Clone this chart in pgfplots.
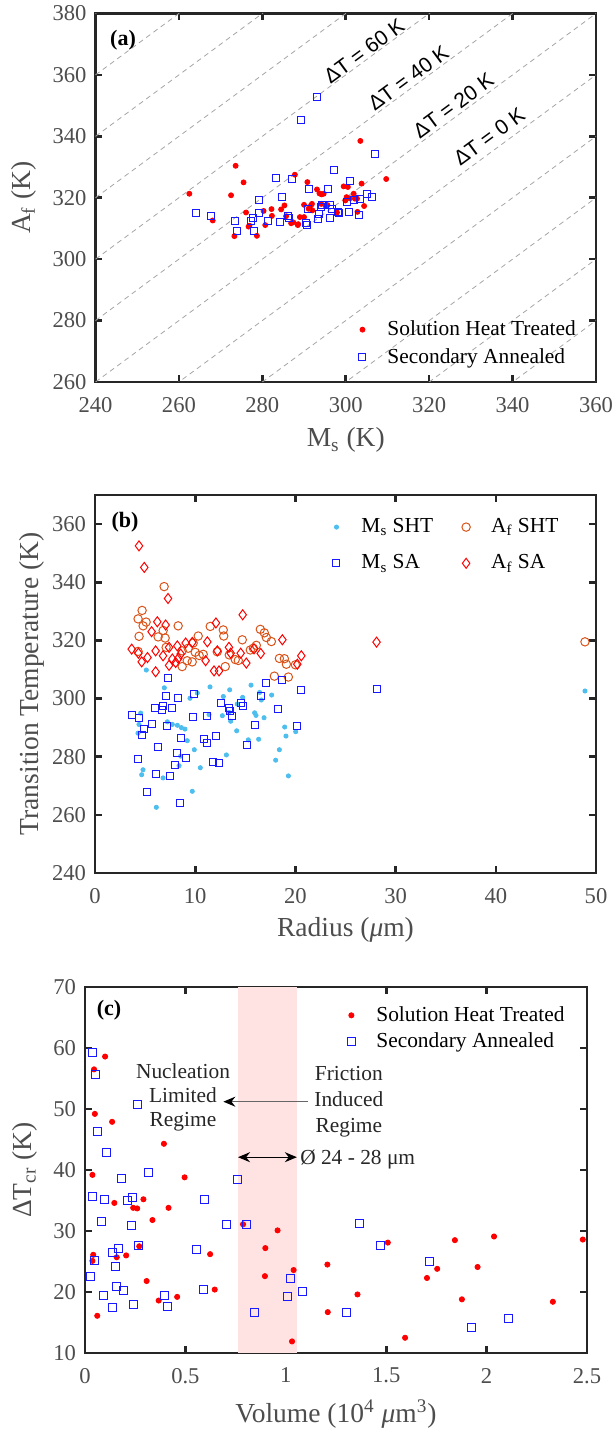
\documentclass[border=0pt]{standalone}
\usepackage{fontspec}
\setmainfont{Liberation Serif}
\newfontfamily\sansf{Liberation Sans}
\usepackage{pgfplots}
\pgfplotsset{compat=1.18}
\usetikzlibrary{arrows.meta}
\definecolor{axgray}{RGB}{38,38,38}
\definecolor{lblgray}{RGB}{77,77,77}
\definecolor{msht}{RGB}{77,190,238}
\definecolor{afsht}{RGB}{217,83,25}
\definecolor{dashgray}{RGB}{165,165,165}
\definecolor{bandpink}{RGB}{255,226,226}
\definecolor{sqblue}{RGB}{25,25,255}
\newcommand{\lblfont}{\fontsize{13.75}{16}\selectfont}
\pgfplotsset{
 base/.style={
  scale only axis,
  axis line style={axgray, line width=1.3pt},
  every tick/.style={axgray, line width=1.3pt},
  major tick length=3.3pt,
  tick align=inside,
  tick label style={font=\fontsize{11.3}{13}\selectfont, text=lblgray},
  /pgf/number format/assume math mode=true,
  xticklabel style={yshift=-4pt},
  yticklabel style={xshift=-1pt},
  legend cell align=left,
  legend style={draw=none, fill=none, font=\fontsize{10.7}{12}\selectfont, row sep=0pt},
  legend image code/.code={\path[draw=none, fill=none] (0pt,-2pt) rectangle (20.5pt,2pt); \draw[##1] plot coordinates {(10pt,0pt)};},
 },
 dashline/.style={dashgray, line width=0.4pt, dash pattern=on 2.5pt off 2pt, forget plot},
 sqmark/.style={sqblue, only marks, mark=square, mark size=#1, mark options={draw=sqblue, fill=none, line width=0.5pt}},
}
\begin{document}
\begin{tikzpicture}
\path[use as bounding box] (0,0) rectangle (307.5pt,-719pt);
% ---------------- (a)
\begin{axis}[base,
  at={(47.75pt,-6.75pt)}, anchor=north west,
  width=250.25pt, height=184.25pt,
  xmin=240, xmax=360, ymin=260, ymax=380,
  xtick={240,260,...,360}, ytick={260,280,...,380},
  xlabel={M\textsubscript{s} (K)}, ylabel={A\textsubscript{f} (K)},
  every axis x label/.style={at={(rel axis cs:0.5,-0.176)}, anchor=base, font=\lblfont, text=lblgray},
  every axis y label/.style={at={(rel axis cs:-0.130,0.5)}, rotate=90, anchor=base, font=\lblfont, text=lblgray},
  legend style={at={(0.4807,0.0195)}, anchor=south west, row sep=1pt},
]
\addplot[dashline] coordinates {(240,140) (360,260)};
\addplot[dashline] coordinates {(240,160) (360,280)};
\addplot[dashline] coordinates {(240,180) (360,300)};
\addplot[dashline] coordinates {(240,200) (360,320)};
\addplot[dashline] coordinates {(240,220) (360,340)};
\addplot[dashline] coordinates {(240,240) (360,360)};
\addplot[dashline] coordinates {(240,260) (360,380)};
\addplot[dashline] coordinates {(240,280) (360,400)};
\addplot[dashline] coordinates {(240,300) (360,420)};
\addplot[dashline] coordinates {(240,320) (360,440)};
\addplot[dashline] coordinates {(240,340) (360,460)};
\addplot[dashline] coordinates {(240,360) (360,480)};
\addplot[dashline] coordinates {(240,380) (360,500)};
\addplot[red, only marks, mark=*, mark size=1.25pt, mark options={draw=red, fill=red}] coordinates {
(262.5,321.3) (268.1,312.6) (272.5,320.8) (273.6,330.4) (273.3,307.5) (275.5,325.0)
(276.1,315.2) (276.7,310.6) (278.7,307.6) (280.3,315.7) (280.7,311.1) (282.2,316.3)
(282.3,314.1) (284.5,316.2) (285.3,317.5) (285.7,314.0) (286.9,311.7) (287.8,327.5)
(288.5,311.1) (289.0,313.7) (290.0,317.7) (290.0,313.7) (290.8,325.1) (291.1,316.4)
(291.7,317.6) (292.0,315.9) (293.1,322.7) (293.7,321.4) (294.2,321.1) (294.7,321.3)
(294.1,318.0) (295.1,317.5) (297.9,315.2) (299.5,323.7) (299.9,319.1) (300.2,320.2)
(300.5,323.5) (301.0,319.8) (301.9,321.3) (302.2,319.7) (302.8,315.4) (303.5,338.5)
(303.8,324.6) (304.4,317.3) (309.7,326.1) (287.4,312.0) (288.6,311.4) (291.9,318.0)
(295.6,317.6) (276.9,310.9) (302.7,319.7)};
\addlegendentry{Solution Heat Treated}
\addplot[sqmark=1.75pt] coordinates {
(264.1,315.0) (267.7,314.2) (273.4,312.3) (273.9,309.3) (277.2,312.3) (277.7,313.5)
(278.0,309.3) (279.3,319.3) (279.1,315.1) (281.3,312.3) (283.2,326.5) (284.2,312.1)
(284.6,320.1) (286.1,314.2) (286.4,313.5) (287.2,326.1) (289.2,345.3) (290.4,311.7)
(290.6,311.1) (291.1,322.9) (290.9,316.2) (293.2,352.9) (293.4,313.1) (293.7,314.8)
(294.1,316.9) (294.4,317.7) (295.8,322.8) (296.3,317.5) (296.3,313.3) (296.6,316.4)
(297.3,328.9) (298.2,315.3) (298.4,315.1) (300.2,318.6) (300.7,315.2) (300.9,325.3)
(301.9,319.3) (303.2,314.4) (303.4,319.6) (305.1,321.1) (306.2,320.4) (306.9,334.4)};
\addlegendentry{Secondary Annealed}
\node[rotate=36.4, font=\sansf\fontsize{10.5}{12}\selectfont] at (axis cs:304.4,367.8) {ΔT = 60 K};
\node[rotate=36.4, font=\sansf\fontsize{10.5}{12}\selectfont] at (axis cs:315.0,358.9) {ΔT = 40 K};
\node[rotate=36.4, font=\sansf\fontsize{10.5}{12}\selectfont] at (axis cs:325.8,350.0) {ΔT = 20 K};
\node[rotate=36.4, font=\sansf\fontsize{10.5}{12}\selectfont] at (axis cs:334.4,339.9) {ΔT = 0 K};
\node[font=\bfseries\fontsize{11}{13}\selectfont] at (rel axis cs:0.055,0.928) {(a)};
\end{axis}
% ---------------- (b)
\begin{axis}[base,
  at={(47.5pt,-247.5pt)}, anchor=north west,
  width=250.5pt, height=189pt,
  xmin=0, xmax=50, ymin=240, ymax=370,
  xtick={0,10,...,50}, ytick={240,260,...,360},
  xlabel={Radius (\textit{μ}m)}, ylabel={Transition Temperature (K)},
  every axis x label/.style={at={(rel axis cs:0.5,-0.167)}, anchor=base, font=\lblfont, text=lblgray},
  every axis y label/.style={at={(rel axis cs:-0.112,0.5)}, rotate=90, anchor=base, font=\lblfont, text=lblgray},
  legend columns=2,
  legend style={at={(0.4293,0.960)}, anchor=north west, row sep=5.5pt,
    /tikz/every even column/.append style={column sep=4.5pt}},
]
\addplot[msht, only marks, mark=*, mark size=1.05pt, mark options={draw=msht, fill=msht}] coordinates {
(5.12,309.8) (6.92,303.7) (9.48,300.1) (10.21,301.9) (11.48,304.0) (12.81,300.7)
(13.44,303.0) (14.73,300.4) (15.57,304.6) (16.43,302.1) (16.6,299.5) (17.63,301.2)
(4.56,295.0) (4.39,291.1) (4.29,288.1) (7.22,292.0) (7.72,291.1) (8.22,290.8)
(8.62,290.0) (8.98,289.5) (9.21,285.5) (9.91,282.4) (10.51,276.2) (11.38,294.5)
(12.71,294.1) (13.11,280.6) (13.37,295.2) (13.54,292.2) (14.14,288.9) (14.2,298.1)
(15.3,285.8) (15.93,295.1) (16.07,294.2) (16.33,286.0) (16.87,293.4) (18.93,290.2)
(19.06,287.1) (20.03,288.6) (18.4,282.4) (18.03,278.8) (19.3,273.4) (4.79,275.5)
(4.66,273.8) (6.79,272.7) (8.39,276.9) (8.55,280.2) (9.71,268.1) (6.12,262.6)
(48.9,302.6)};
\addlegendentry{M\textsubscript{s} SHT}
\addplot[afsht, only marks, mark=o, mark size=2.1pt, mark options={draw=afsht, fill=none, line width=0.5pt}] coordinates {
(6.9,338.5) (4.7,330.3) (4.3,327.4) (5.1,326.3) (4.8,325.0) (8.3,325.0) (4.4,321.4)
(6.3,321.2) (6.8,323.4) (7.0,320.8) (10.3,321.5) (11.5,324.8) (12.8,323.6) (12.85,321.5)
(14.7,320.2) (16.5,323.8) (16.9,322.6) (17.1,321.0) (17.6,319.6) (4.3,316.2) (7.1,317.6)
(8.7,316.4) (9.3,317.3) (9.8,319.1) (10.0,315.9) (10.4,314.8) (8.7,311.0) (9.2,313.0)
(9.7,312.6) (10.8,315.2) (13.0,311.0) (12.2,316.1) (13.4,315.0) (14.0,313.4) (14.3,313.1)
(15.5,316.7) (15.8,317.3) (16.1,318.3) (18.4,313.8) (18.9,313.7) (19.1,311.8) (17.9,307.7)
(19.3,307.4) (20.0,311.6) (48.9,319.5)};
\addlegendentry{A\textsubscript{f} SHT}
\addplot[sqmark=1.75pt] coordinates {
(7.29,307.0) (7.05,300.9) (8.25,300.1) (9.88,301.6) (6.79,297.6) (5.99,296.7) (7.65,296.6)
(3.73,294.4) (4.39,293.4) (5.65,291.2) (4.92,289.5) (4.66,287.4) (7.19,290.4) (9.78,293.5)
(11.14,294.1) (12.57,298.4) (13.37,296.6) (13.64,294.1) (14.54,298.4) (14.77,297.5)
(16.53,300.9) (17.03,305.2) (18.66,306.3) (18.3,296.4) (20.59,303.0) (20.16,290.7)
(15.93,291.0) (12.11,287.2) (10.91,286.0) (11.18,284.7) (15.17,284.1) (8.55,286.4)
(6.25,283.4) (4.29,279.3) (8.15,281.2) (7.98,277.2) (9.05,279.5) (6.05,274.0) (7.45,273.4)
(11.81,278.1) (12.38,277.9) (5.16,267.7) (8.45,264.1) (28.1,303.4) (6.7,296.1) (13.5,295.7)};
\addlegendentry{M\textsubscript{s} SA}
\addplot[red, only marks, mark=diamond, mark size=2.5pt, mark options={draw=red, fill=none, line width=0.5pt}] coordinates {
(4.39,352.5) (4.92,345.1) (7.29,334.4) (14.74,328.8) (6.22,326.4) (7.05,325.3) (5.65,323.0)
(12.07,326.0) (18.7,320.2) (3.66,317.0) (4.33,315.6) (4.66,312.6) (5.24,314.1) (6.05,316.4)
(6.79,314.7) (6.05,309.2) (7.39,317.6) (8.22,318.1) (7.72,313.6) (8.05,312.4) (8.32,313.8)
(8.55,315.3) (9.05,319.1) (9.71,319.3) (11.04,313.0) (11.21,319.5) (11.88,309.5) (12.38,309.5)
(12.21,316.4) (13.37,317.6) (13.54,315.6) (15.1,312.2) (14.54,315.6) (15.87,317.1) (16.54,315.5)
(20.19,311.8) (20.59,314.7) (7.39,311.4) (28.1,319.4)};
\addlegendentry{A\textsubscript{f} SA}
\node[font=\bfseries\fontsize{11}{13}\selectfont] at (rel axis cs:0.06,0.927) {(b)};
\end{axis}
% ---------------- (c)
\begin{axis}[base,
  at={(42.5pt,-493.5pt)}, anchor=north west,
  width=251pt, height=183pt,
  xmin=0, xmax=2.5, ymin=10, ymax=70,
  xtick={0,0.5,...,2.5}, ytick={10,20,...,70},
  xlabel={Volume (10\textsuperscript{4} \textit{μ}m\textsuperscript{3})}, ylabel={ΔT\textsubscript{cr} (K)},
  every axis x label/.style={at={(rel axis cs:0.5,-0.191)}, anchor=base, font=\lblfont, text=lblgray},
  every axis y label/.style={at={(rel axis cs:-0.107,0.5)}, rotate=90, anchor=base, font=\lblfont, text=lblgray},
  legend style={at={(0.478,0.970)}, anchor=north west},
]
\addplot[fill=bandpink, draw=none, forget plot] coordinates {(0.762,10) (1.055,10) (1.055,70) (0.762,70)} -- cycle;
\addplot[red, only marks, mark=*, mark size=1.3pt, mark options={draw=red, fill=red}] coordinates {
(0.100,58.6) (0.045,56.5) (0.049,49.2) (0.135,47.9) (0.393,44.3) (0.037,39.2) (0.496,38.8)
(0.146,34.6) (0.291,35.2) (0.240,33.8) (0.260,33.7) (0.416,33.8) (0.336,31.8) (0.787,31.1)
(0.959,30.1) (2.037,29.1) (1.842,28.5) (2.479,28.6) (1.508,28.1) (0.270,27.5) (0.898,27.2)
(0.623,26.2) (0.041,26.1) (0.205,26.0) (0.158,25.7) (0.037,25.1) (1.207,24.5) (1.754,23.8)
(1.955,24.1) (1.039,23.6) (0.896,22.6) (1.703,22.3) (0.307,21.8) (0.646,20.4) (1.357,19.6)
(0.459,19.2) (0.367,18.6) (1.877,18.8) (2.330,18.4) (1.209,16.7) (0.061,16.1) (1.594,12.5)
(1.031,11.9)};
\addlegendentry{Solution Heat Treated}
\addplot[sqmark=2pt] coordinates {
(0.037,59.3) (0.053,55.6) (0.260,50.8) (0.0625,46.3) (0.107,42.9) (0.184,38.6) (0.316,39.6)
(0.758,38.5) (0.035,35.7) (0.098,35.1) (0.236,35.5) (0.213,35.0) (0.596,35.1) (0.080,31.6)
(0.234,30.9) (0.705,31.1) (0.803,31.1) (1.367,31.2) (0.268,27.6) (1.471,27.7) (0.557,27.0)
(0.166,27.2) (0.135,26.5) (0.047,25.2) (0.154,24.1) (1.717,25.0) (0.027,22.6) (1.023,22.2)
(0.158,20.9) (0.193,20.3) (0.592,20.4) (0.092,19.4) (0.396,19.4) (1.006,19.3) (1.084,20.1)
(0.139,17.4) (0.244,18.0) (0.410,17.6) (0.844,16.6) (1.303,16.7) (2.107,15.6) (1.926,14.2)};
\addlegendentry{Secondary Annealed}
\node[align=center, font=\fontsize{10.7}{12.2}\selectfont, text=black!85] at (axis cs:0.488,51.9) {Nucleation\\Limited\\Regime};
\node[align=center, font=\fontsize{10.7}{12.8}\selectfont, text=black!85] at (axis cs:1.314,51.2) {Friction\\Induced\\Regime};
\draw[black!60, line width=0.6pt, -{Stealth[length=6pt,width=5pt,black]}] (axis cs:1.109,51.2) -- (axis cs:0.689,51.2);
\draw[black, line width=0.6pt, {Stealth[length=6pt,width=5pt]}-{Stealth[length=6pt,width=5pt]}] (axis cs:0.762,42.1) -- (axis cs:1.055,42.1);
\node[anchor=base west, inner sep=0pt, font=\fontsize{10.7}{12.8}\selectfont, text=black!85] at (axis cs:1.07,40.9) {Ø 24 - 28 μm};
\node[font=\bfseries\fontsize{11}{13}\selectfont] at (rel axis cs:0.048,0.937) {(c)};
\end{axis}
\end{tikzpicture}
\end{document}
